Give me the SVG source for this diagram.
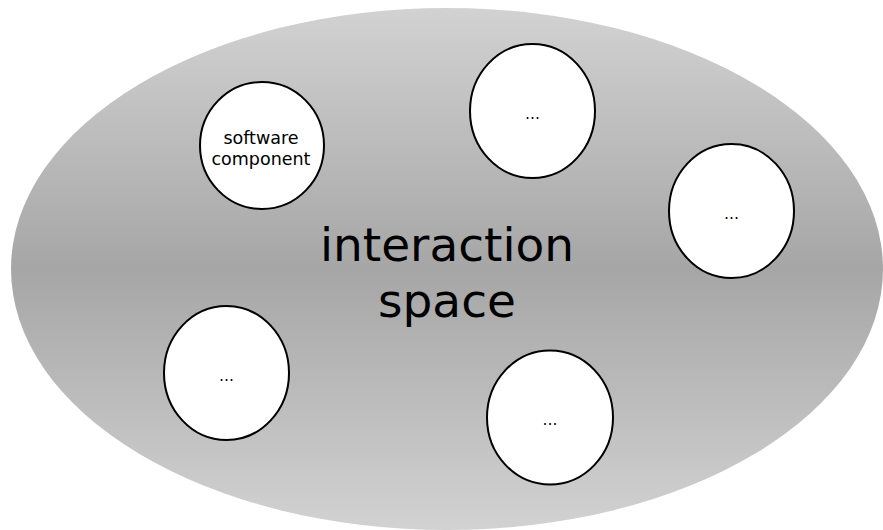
<svg xmlns="http://www.w3.org/2000/svg" width="883" height="530" viewBox="0 0 883 530">
  <defs>
    <linearGradient id="spaceFill" x1="0" y1="0" x2="0" y2="1">
      <stop offset="0" stop-color="#d2d2d2"/>
      <stop offset="0.5" stop-color="#a6a6a6"/>
      <stop offset="1" stop-color="#d2d2d2"/>
    </linearGradient>
  </defs>
  <style>
    .comp { fill: #ffffff; stroke: #000000; stroke-width: 2; }
    .label { font-family: "DejaVu Sans", Verdana, sans-serif; fill: #000000; text-anchor: middle; }
    .small { font-size: 17.5px; }
    .dots { font-size: 15px; }
    .big { font-size: 47px; }
  </style>
  <rect width="883" height="530" fill="#ffffff"/>

  <!-- shared interaction space -->
  <g id="interaction-space">
    <ellipse cx="447" cy="269" rx="436" ry="261" fill="url(#spaceFill)"/>
    <text class="label big" x="447" y="261">interaction</text>
    <text class="label big" x="447" y="317">space</text>
  </g>

  <!-- components living in the space -->
  <g id="software-component">
    <ellipse class="comp" cx="262" cy="145.5" rx="62" ry="63.5"/>
    <text class="label small" x="261" y="144">software</text>
    <text class="label small" x="261" y="165">component</text>
  </g>
  <g id="component-top">
    <ellipse class="comp" cx="532.5" cy="111" rx="62.5" ry="67"/>
    <text class="label dots" x="532.5" y="119">…</text>
  </g>
  <g id="component-right">
    <ellipse class="comp" cx="731.5" cy="211" rx="62.5" ry="67"/>
    <text class="label dots" x="731.5" y="219">…</text>
  </g>
  <g id="component-left">
    <ellipse class="comp" cx="226.5" cy="373" rx="62.5" ry="67"/>
    <text class="label dots" x="226.5" y="381">…</text>
  </g>
  <g id="component-bottom">
    <ellipse class="comp" cx="550" cy="417.5" rx="63" ry="67"/>
    <text class="label dots" x="550" y="425">…</text>
  </g>

  <g id="connectors"/>
</svg>
